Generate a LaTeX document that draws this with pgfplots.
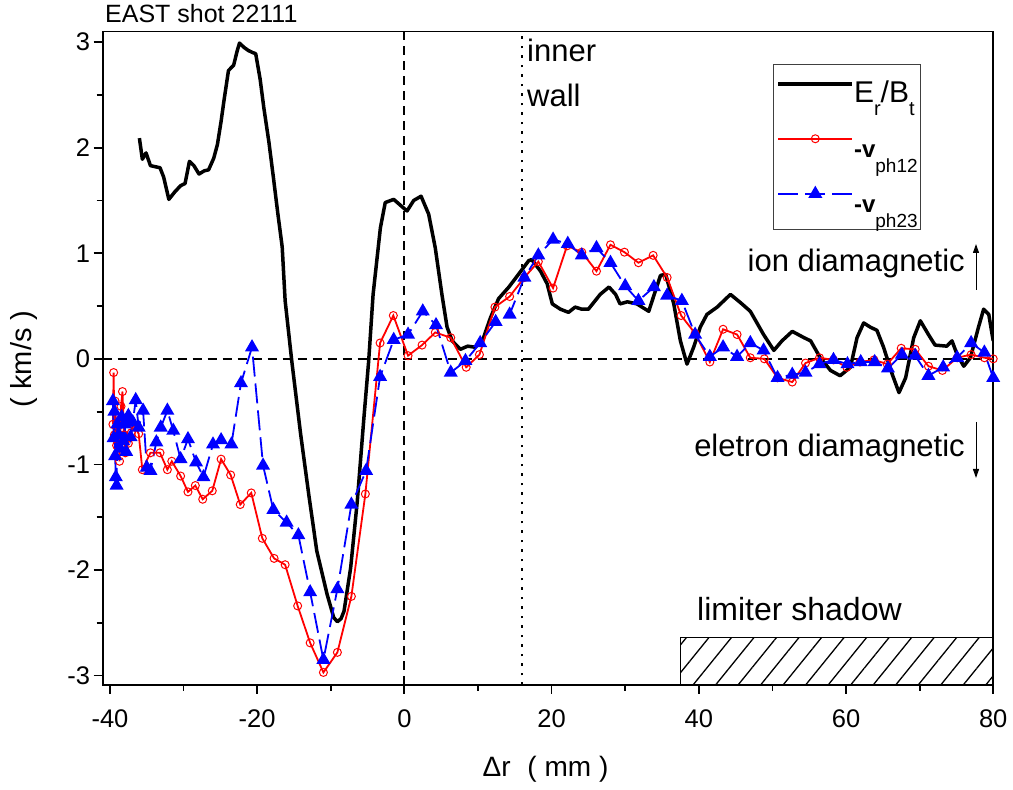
\documentclass[border=0pt]{standalone}
\usepackage{pgfplots}
\pgfplotsset{compat=1.18}
\usetikzlibrary{patterns.meta,arrows.meta}
\usepackage{fontspec}
\setmainfont{Liberation Sans}
\newcommand\fs[1]{\fontsize{#1}{#1}\selectfont}
\newcommand\lsub[3]{\raisebox{-#1}{\fs{#2}#3}}
\begin{document}
\begin{tikzpicture}[x=1pt,y=1pt]
\useasboundingbox (0,0) rectangle (1013,790);
\begin{axis}[
  at={(102.6pt,105pt)}, anchor=south west,
  scale only axis, width=890.6pt, height=653.5pt,
  xmin=-41, xmax=80, ymin=-3.089, ymax=3.1,
  xtick={-40,-20,...,80}, ytick={-3,-2,...,3},
  minor x tick num=1, minor y tick num=1,
  tick align=outside, xtick pos=bottom, ytick pos=left,
  major tick length=9pt, minor tick length=6pt,
  axis line style={line width=1.8pt},
  every tick/.style={black,line width=1.8pt},
  tick label style={font=\fs{25.5}},
  xticklabel style={yshift=-12pt},
  /pgf/number format/assume math mode=true,
  legend style={at={(0.7527,0.950)}, anchor=north west, draw=black!75, line width=1.2pt,
    fill=white, inner xsep=3pt, inner ysep=0pt, row sep=0pt,
    nodes={inner sep=0pt, text height=32.7pt, text depth=17.3pt},
    /tikz/every even column/.append style={column sep=8pt}},
  legend cell align=left,
  legend image code/.code={\path[draw=none,fill=none] (0pt,-12pt) rectangle (74pt,30pt);
    \draw[#1,mark repeat=2,mark phase=2] plot coordinates {(0pt,11pt) (37pt,11pt) (74pt,11pt)};},
]
\draw[line width=1.8pt, dash pattern=on 9pt off 6pt] (axis cs:0,-3.089) -- (axis cs:0,3.1);
\draw[line width=1.8pt, dash pattern=on 9pt off 6pt] (axis cs:-41,0) -- (axis cs:80,0);
\draw[line width=2pt, dash pattern=on 2.5pt off 7pt] (axis cs:16,-3.089) -- (axis cs:16,3.1);
\draw[line width=1.2pt, pattern={Lines[angle=51,distance=17.5pt,line width=1.3pt]}] (axis cs:37.5,-3.089) rectangle (axis cs:80,-2.64);

\addplot[black, line width=3.5pt, line join=round, no marks] coordinates {
(-36.0,2.09) (-35.6,1.89) (-35.1,1.95) (-34.5,1.83) (-33.9,1.82) (-33.2,1.81) (-32.7,1.72) (-32.0,1.51) (-31.2,1.58) (-30.4,1.64) (-29.8,1.66) (-29.2,1.87) (-28.6,1.83) (-27.9,1.75) (-27.2,1.78) (-26.6,1.79) (-25.9,1.90) (-25.4,2.03) (-24.9,2.25) (-24.5,2.45) (-23.9,2.73) (-23.2,2.78) (-22.7,2.92) (-22.4,2.99) (-21.8,2.95) (-21.2,2.92) (-20.6,2.90) (-20.2,2.89) (-19.6,2.65) (-19.1,2.38) (-18.4,2.05) (-17.8,1.72) (-17.2,1.38) (-16.6,1.06) (-16.2,0.55) (-15.3,-0.02) (-14.1,-0.71) (-13.0,-1.28) (-11.9,-1.82) (-10.5,-2.23) (-9.6,-2.45) (-9.1,-2.49) (-8.6,-2.46) (-8.2,-2.39) (-7.3,-1.98) (-6.4,-1.35) (-5.5,-0.56) (-4.85,-0.02) (-4.25,0.61) (-3.26,1.24) (-2.6,1.48) (-1.45,1.51) (-0.3,1.44) (0.36,1.40) (1.27,1.50) (2.27,1.54) (3.3,1.37) (4.2,1.05) (5.1,0.61) (5.8,0.30) (6.5,0.17) (7.6,0.09) (8.6,0.12) (9.6,0.11) (10.6,0.17) (11.7,0.39) (12.8,0.57) (14.2,0.68) (15.5,0.80) (16.9,0.93) (17.3,0.94) (18.5,0.83) (19.4,0.71) (20.1,0.52) (21.2,0.47) (22.3,0.44) (23.2,0.49) (24.1,0.47) (25.0,0.47) (26.6,0.61) (27.8,0.68) (28.7,0.61) (29.3,0.52) (30.3,0.54) (31.6,0.52) (33.2,0.45) (33.9,0.60) (34.8,0.79) (35.5,0.80) (36.6,0.52) (37.5,0.17) (38.4,-0.05) (39.3,0.11) (40.2,0.30) (41.1,0.42) (42.5,0.49) (44.3,0.61) (45.7,0.53) (47.0,0.45) (48.8,0.23) (50.2,0.08) (51.3,0.17) (52.7,0.26) (54.3,0.20) (55.2,0.17) (56.5,0.01) (57.9,-0.11) (59.2,-0.16) (60.6,-0.08) (61.5,0.20) (62.4,0.34) (63.3,0.30) (64.2,0.27) (65.1,0.11) (66.3,-0.15) (67.2,-0.32) (68.1,-0.18) (69.2,0.20) (70.1,0.36) (71.2,0.23) (72.1,0.13) (73.7,0.12) (74.4,0.17) (75.1,0.04) (76.0,-0.07) (76.9,0.01) (78.0,0.30) (78.7,0.47) (79.4,0.42) (80.0,0.17)
};
\addlegendentry{\fs{30}E\lsub{13.3pt}{20}{r}/B\lsub{13.3pt}{20}{t}}

\addplot[red, line width=1.8pt, mark=o, mark size=4pt, mark options={solid, fill=white, line width=1pt}] coordinates {
(-39.6,-0.62) (-39.5,-0.13) (-39.4,-0.72) (-39.3,-0.40) (-39.1,-0.82) (-38.9,-0.55) (-38.7,-0.97) (-38.5,-0.45) (-38.3,-0.31) (-38.1,-0.72) (-37.9,-0.89) (-37.5,-0.80) (-37.1,-0.70) (-36.8,-0.62) (-36.1,-0.71) (-35.6,-1.05) (-34.5,-0.89) (-33.2,-0.89) (-32.2,-1.05) (-31.6,-0.97) (-30.4,-1.11) (-29.4,-1.26) (-28.4,-1.20) (-27.4,-1.33) (-26.1,-1.25) (-24.9,-0.95) (-23.6,-1.10) (-22.3,-1.38) (-20.8,-1.27) (-19.3,-1.70) (-17.7,-1.89) (-16.2,-1.95) (-14.5,-2.34) (-12.8,-2.69) (-11.0,-2.97) (-9.1,-2.78) (-7.2,-2.25) (-5.3,-1.28) (-3.3,0.15) (-1.5,0.41) (0.5,0.03) (2.4,0.13) (4.2,0.25) (6.3,0.20) (8.4,-0.08) (10.2,0.04) (12.3,0.49) (14.3,0.59) (16.3,0.77) (18.2,0.92) (20.2,0.67) (22.1,1.07) (24.1,1.01) (26.1,0.83) (28.0,1.08) (29.9,1.01) (31.8,0.91) (33.8,0.98) (35.7,0.77) (37.6,0.41) (39.5,0.24) (41.5,-0.03) (43.3,0.28) (45.2,0.23) (47.0,0.01) (48.9,0.00) (50.7,-0.18) (52.7,-0.22) (54.5,-0.04) (56.4,0.01) (58.3,-0.01) (60.1,-0.08) (61.9,-0.03) (63.8,-0.01) (65.6,-0.05) (67.5,0.10) (69.4,0.09) (71.2,-0.07) (73.1,-0.11) (75.1,0.01) (77.0,0.04) (78.8,0.01) (80.0,0.0)
};
\addlegendentry{\fs{24}\textbf{-v}\lsub{15pt}{19}{ph12}}

\addplot[blue, line width=1.8pt, dash pattern=on 20pt off 7pt, mark=triangle*, mark size=6.3pt, mark options={solid}] coordinates {
(-39.6,-0.40) (-39.5,-0.75) (-39.4,-0.50) (-39.3,-0.92) (-39.2,-1.12) (-39.1,-1.20) (-39.0,-0.62) (-38.8,-0.72) (-38.6,-0.85) (-38.4,-0.55) (-38.2,-0.78) (-38.0,-0.62) (-37.8,-0.88) (-37.5,-0.54) (-37.2,-0.74) (-36.9,-0.60) (-36.5,-0.39) (-36.1,-0.65) (-35.5,-0.49) (-35.0,-1.03) (-34.5,-1.06) (-33.7,-0.79) (-33.1,-0.65) (-32.2,-0.49) (-31.4,-0.68) (-30.4,-0.95) (-29.4,-0.76) (-28.3,-0.98) (-27.3,-1.12) (-26.0,-0.81) (-24.9,-0.77) (-23.5,-0.81) (-22.2,-0.23) (-20.7,0.11) (-19.2,-1.01) (-17.8,-1.43) (-16.0,-1.55) (-14.4,-1.67) (-12.8,-2.21) (-11.0,-2.85) (-9.1,-2.18) (-7.2,-1.38) (-5.2,-1.06) (-3.3,-0.17) (-1.45,0.18) (0.5,0.23) (2.5,0.45) (4.3,0.32) (6.3,-0.13) (8.3,-0.02) (10.3,0.15) (12.4,0.35) (14.3,0.42) (16.3,0.77) (18.2,0.98) (20.2,1.13) (22.2,1.09) (24.1,0.98) (26.1,1.05) (28.0,0.91) (30.0,0.69) (31.8,0.55) (33.9,0.68) (35.7,0.60) (37.7,0.55) (39.5,0.23) (41.5,0.02) (43.3,0.11) (45.2,0.02) (47.0,0.15) (48.8,0.08) (50.7,-0.18) (52.7,-0.15) (54.5,-0.13) (56.4,-0.05) (58.3,-0.01) (60.2,-0.05) (62.0,-0.03) (63.9,-0.03) (65.7,-0.09) (67.6,0.04) (69.4,0.03) (71.2,-0.16) (73.2,-0.08) (75.1,0.01) (77.0,0.15) (78.8,0.06) (80.0,-0.18)
};
\addlegendentry{\fs{24}\textbf{-v}\lsub{15pt}{19}{ph23}}
\end{axis}
% annotations in pixel coordinates (y from bottom = 790 - y_top)
\node[anchor=base west, inner sep=0pt, font=\fs{25}] at (105,767.3) {EAST shot 22111};
\node[anchor=base west, inner sep=0pt, font=\fs{31}] at (527,728) {inner};
\node[anchor=base west, inner sep=0pt, font=\fs{31}] at (527,683) {wall};
\node[anchor=base east, inner sep=0pt, font=\fs{31}] at (965,518) {ion diamagnetic};
\node[anchor=base east, inner sep=0pt, font=\fs{31}] at (965,333) {eletron diamagnetic};
\node[anchor=base west, inner sep=0pt, font=\fs{32}] at (697,169) {limiter shadow};
\draw[line width=1pt, -{Triangle[length=9pt,width=6pt]}] (976,500) -- (976,546);
\draw[line width=1pt, -{Triangle[length=9pt,width=6pt]}] (976,368) -- (976,312);
\node[anchor=base, inner sep=0pt, font=\fs{28}] at (545.5,13) {Δr\hspace{0.6em}( mm )};
\node[anchor=base, rotate=90, inner sep=0pt, font=\fs{29}] at (31,431) {( km/s )};
\end{tikzpicture}
\end{document}
